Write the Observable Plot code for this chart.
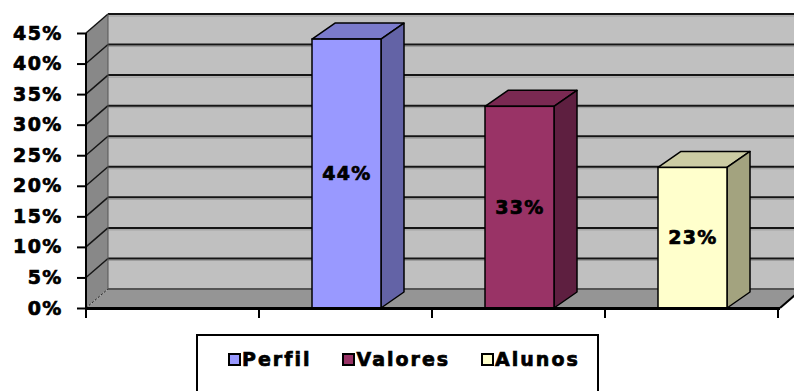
<!DOCTYPE html>
<html>
<head>
<meta charset="utf-8">
<script src="https://cdn.jsdelivr.net/npm/d3@7"></script>
<script src="https://cdn.jsdelivr.net/npm/@observablehq/plot@0.6"></script>
<style>
  html, body { margin: 0; padding: 0; background: #fff; overflow: hidden; }
  #chart svg { display: block; }
  #chart svg text { stroke: #000; stroke-width: 0.7px; }
  #legend {
    position: absolute; left: 196px; top: 334px; width: 403px; height: 80px;
    border: 2px solid #000; box-sizing: border-box; background: #fff;
    display: flex; align-items: center; padding-left: 30px; align-content: flex-start;
    padding-bottom: 30px;
    font-family: "DejaVu Sans", sans-serif; font-weight: bold; font-size: 19px; letter-spacing: 2px;
    -webkit-text-stroke: 0.7px #000;
  }
  .item { display: flex; align-items: center; margin-right: 31px; }
  .sw { width: 13px; height: 13px; border: 2px solid #000; box-sizing: border-box; margin-right: 1px; }
</style>
</head>
<body>
<div id="chart"></div>
<div id="legend"></div>
<script>
// ---- data ----
const slots = ["", "Perfil", "Valores", "Alunos"];
const series = ["Perfil", "Valores", "Alunos"];
const values = [44, 33, 23];
const yTicks = [0, 5, 10, 15, 20, 25, 30, 35, 40, 45];

// ---- styles ----
const frontColors = ["#9999FF", "#993366", "#FFFFCC"];
const topColors = ["#7B7BCC", "#7A2952", "#CCCCA3"];
const sideColors = ["#6363A6", "#5E1F40", "#A3A37F"];

const data = series.map((name, i) => ({name, value: values[i], i}));

const WX = 22, WY = 19; // wall depth
const BX = 23, BY = 16; // bar depth

function walls(index, scales) {
  const x = scales.x, y = scales.y;
  const [x0, x1] = x.range();
  const yMax = d3.max(y.domain());
  const y0 = y(0), yT = y(yMax);
  const g = d3.create("svg:g");
  const poly = (pts, fill) => g.append("polygon")
    .attr("points", pts.map(p => p.join(",")).join(" ")).attr("fill", fill);
  poly([[x0 + WX, yT - WY], [x1 + WX + 40, yT - WY], [x1 + WX + 40, y0 - WY], [x0 + WX, y0 - WY]], "#C0C0C0");
  poly([[x0, yT], [x0 + WX, yT - WY], [x0 + WX, y0 - WY], [x0, y0]], "#888888");
  poly([[x0, y0], [x1, y0], [x1 + WX, y0 - WY], [x0 + WX, y0 - WY]], "#959595");
  for (const t of yTicks) {
    const yy = y(t);
    if (t > 0) {
      g.append("line").attr("x1", x0 + WX).attr("x2", x1 + WX + 40)
        .attr("y1", yy - WY + 2).attr("y2", yy - WY + 2).attr("stroke", "#9a9a9a").attr("stroke-width", 1);
    }
    g.append("line").attr("x1", x0 + WX).attr("x2", x1 + WX + 40)
      .attr("y1", yy - WY).attr("y2", yy - WY)
      .attr("stroke", t === 0 ? "#555" : "#151515").attr("stroke-width", 2);
    g.append("line").attr("x1", x0).attr("x2", x0 + WX)
      .attr("y1", yy).attr("y2", yy - WY)
      .attr("stroke", "#151515").attr("stroke-width", t === 0 ? 1 : 1.5)
      .attr("stroke-dasharray", t === 0 ? "2,2" : null);
  }
  g.append("line").attr("x1", x1).attr("x2", x1 + WX).attr("y1", y0).attr("y2", y0 - WY)
    .attr("stroke", "#000").attr("stroke-width", 2);
  g.append("line").attr("x1", x0 + WX).attr("x2", x0 + WX).attr("y1", yT - WY).attr("y2", y0 - WY)
    .attr("stroke", "#555").attr("stroke-width", 1);
  g.append("line").attr("x1", x0).attr("x2", x0).attr("y1", yT).attr("y2", y0 + 10)
    .attr("stroke", "#000").attr("stroke-width", 2);
  return g.node();
}

function bars3d(index, scales) {
  const x = scales.x, y = scales.y;
  const bw = x.bandwidth();
  const y0 = y(0);
  const g = d3.create("svg:g");
  const pts = a => a.map(p => p.join(",")).join(" ");
  for (const d of data) {
    const xl = x(d.name), xr = xl + bw, yt = y(d.value);
    g.append("polygon").attr("points", pts([[xl, yt], [xr, yt], [xr + BX, yt - BY], [xl + BX, yt - BY]]))
      .attr("fill", topColors[d.i]).attr("stroke", "#000").attr("stroke-width", 1.5).attr("stroke-linejoin", "round");
    g.append("polygon").attr("points", pts([[xr, yt], [xr + BX, yt - BY], [xr + BX, y0 - BY], [xr, y0]]))
      .attr("fill", sideColors[d.i]).attr("stroke", "#000").attr("stroke-width", 1.5).attr("stroke-linejoin", "round");
  }
  return g.node();
}

function xTicks(index, scales) {
  const x = scales.x, y = scales.y;
  const [x0] = x.range();
  const step = x.step();
  const y0 = y(0);
  const g = d3.create("svg:g");
  slots.concat([null]).forEach((s, i) => {
    const bx = x0 + i * step;
    g.append("line").attr("x1", bx).attr("x2", bx).attr("y1", y0).attr("y2", y0 + 10)
      .attr("stroke", "#000").attr("stroke-width", 2);
  });
  return g.node();
}

const chart = Plot.plot({
  width: 794,
  height: 326,
  marginLeft: 86,
  marginRight: 14,
  marginTop: 33,
  marginBottom: 18,
  style: {background: "transparent", fontFamily: "DejaVu Sans", letterSpacing: "1.3px", overflow: "visible"},
  x: {type: "band", domain: slots, paddingInner: 0.6, paddingOuter: 0.3, axis: null},
  y: {domain: [0, 45], label: null},
  color: {domain: series, range: frontColors},
  marks: [
    walls,
    bars3d,
    Plot.barY(data, {x: "name", y: "value", fill: "name", stroke: "#000", strokeWidth: 1.5}),
    Plot.text(data, {x: "name", y: d => d.value / 2, text: d => d.value + "%", fontSize: 19, fontWeight: "bold", fill: "#000"}),
    Plot.ruleY([0], {stroke: "#000", strokeWidth: 3}),
    xTicks,
    Plot.axisY({ticks: yTicks, label: null, tickSize: 9, tickPadding: 15, tickFormat: d => d + "%", fontSize: 19, fontWeight: "bold", strokeWidth: 2, stroke: "#000", fill: "#000"})
  ]
});
document.getElementById("chart").appendChild(chart);

const legend = d3.select("#legend");
series.forEach((s, i) => {
  const it = legend.append("div").attr("class", "item");
  it.append("div").attr("class", "sw").style("background", frontColors[i]);
  it.append("span").text(s);
});
</script>
</body>
</html>
